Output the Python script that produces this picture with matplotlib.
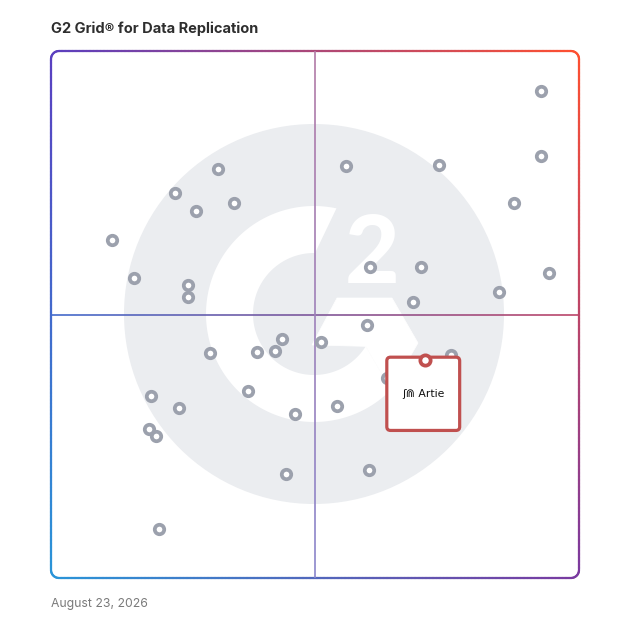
import numpy as np
import matplotlib
matplotlib.use("Agg")
import matplotlib.pyplot as plt
from matplotlib.collections import LineCollection
from matplotlib.patches import Circle, Polygon, FancyBboxPatch
from matplotlib.colors import to_rgb

title = "G2 Grid® for Data Replication"
date_label = "August 23, 2026"

# x = satisfaction, y = market presence (0-100 grid scale)
satisfaction = [92.8, 92.8, 73.5, 55.8, 31.7, 23.5, 27.4, 34.7, 87.7, 11.6,
                60.4, 70.1, 94.3, 15.8, 26.0, 26.0, 84.9, 68.6, 59.8, 43.8,
                51.1, 30.1, 39.1, 42.4, 75.7, 63.6, 37.4, 18.9, 24.2, 46.3,
                54.2, 18.6, 19.8, 44.5, 60.2, 20.5]
market_presence = [92.4, 80.1, 78.4, 78.2, 77.6, 73.0, 69.6, 71.1, 71.1, 64.1,
                   59.0, 59.0, 57.9, 57.0, 55.6, 53.3, 54.2, 52.4, 48.1, 45.4,
                   44.7, 42.6, 42.8, 43.1, 42.4, 37.9, 35.5, 34.5, 32.3, 31.1,
                   32.7, 28.2, 26.9, 19.8, 20.5, 9.3]
highlight_name = "Artie"
highlight_x = 70.8
highlight_y = 41.4

# corner colours of the gradient frame
c_tl, c_tr = to_rgb("#5a3fc0"), to_rgb("#ff5030")
c_bl, c_br = to_rgb("#2a95d8"), to_rgb("#7a3aa0")


def grad(u, v):
    # u: 0 left -> 1 right, v: 0 top -> 1 bottom
    u = np.asarray(u)[:, None]
    v = np.asarray(v)[:, None]
    top = (1 - u) * np.array(c_tl) + u * np.array(c_tr)
    bot = (1 - u) * np.array(c_bl) + u * np.array(c_br)
    return np.clip((1 - v) * top + v * bot, 0, 1)


def densify(pts, n=1500):
    pts = np.asarray(pts, float)
    d = np.r_[0, np.cumsum(np.hypot(*np.diff(pts, axis=0).T))]
    s = np.linspace(0, d[-1], n)
    return np.c_[np.interp(s, d, pts[:, 0]), np.interp(s, d, pts[:, 1])]


W = H = 628
fig = plt.figure(figsize=(6.28, 6.28), dpi=100)
bg = fig.add_axes([0, 0, 1, 1])
bg.set_xlim(0, W)
bg.set_ylim(H, 0)
bg.axis("off")

gx0, gx1, gy0, gy1 = 51, 579, 51, 578
ax = fig.add_axes([gx0 / W, 1 - gy1 / H, (gx1 - gx0) / W, (gy1 - gy0) / H])
ax.set_xlim(0, 100)
ax.set_ylim(0, 100)
ax.axis("off")

# --- G2 watermark ---
cx, cy, R = 314, 314, 190
r_in, r_out = 61, 108
bg.add_patch(Circle((cx, cy), R, color="#ebedf0", lw=0, zorder=0))


def polar(r, a):
    a = np.radians(a)
    return np.c_[cx + r * np.cos(a), cy - r * np.sin(a)]


outer = polar(r_out, np.linspace(78, 315.4, 200))
inner = polar(r_in, np.linspace(328, 89, 200))
ring = np.vstack([outer, polar(r_in, [328]), inner])
bg.add_patch(Polygon(ring, closed=True, fc="white", ec="none", zorder=1))
chevron = np.vstack([polar(r_out, [315.4]), [[418, 343], [392, 298], [337, 298], [312, 345]],
                     polar(r_in, [328])])
bg.add_patch(Polygon(chevron, closed=True, fc="white", ec="white", lw=0.5, zorder=1))
bg.text(371.7, 282.7, "2", fontsize=68, fontweight="black", family="Lato",
        color="white", ha="center", va="baseline", zorder=1)

# --- quadrant lines ---
xs = np.linspace(0, 100, 300)
seg_h = np.c_[xs, np.full_like(xs, 50)]
segs = np.stack([seg_h[:-1], seg_h[1:]], axis=1)
ax.add_collection(LineCollection(segs, colors=grad(xs[:-1] / 100, np.full(299, 0.5)),
                                 lw=1.2, zorder=2))
ys = np.linspace(100, 0, 300)
vtop, vbot = np.array(to_rgb("#b27aa6")), np.array(to_rgb("#8a86cc"))
t = (1 - ys[:-1] / 100)[:, None]
seg_v = np.c_[np.full_like(ys, 50), ys]
segs = np.stack([seg_v[:-1], seg_v[1:]], axis=1)
ax.add_collection(LineCollection(segs, colors=(1 - t) * vtop + t * vbot, lw=1.2, zorder=2))

# --- gradient frame ---
rr = 8
frame = []
for ccx, ccy, a0, a1 in [(gx1 - rr, gy0 + rr, -90, 0), (gx1 - rr, gy1 - rr, 0, 90),
                         (gx0 + rr, gy1 - rr, 90, 180), (gx0 + rr, gy0 + rr, 180, 270)]:
    a = np.radians(np.linspace(a0, a1, 20))
    frame.extend(zip(ccx + rr * np.cos(a), ccy + rr * np.sin(a)))
frame.append(frame[0])
fp = densify(frame)
segs = np.stack([fp[:-1], fp[1:]], axis=1)
mid = (fp[:-1] + fp[1:]) / 2
cols = grad((mid[:, 0] - gx0) / (gx1 - gx0), (mid[:, 1] - gy0) / (gy1 - gy0))
bg.add_collection(LineCollection(segs, colors=cols, lw=1.6, capstyle="round", zorder=3))

# --- products ---
ax.plot(satisfaction, market_presence, "o", ms=6.8, mew=2.7, mfc="white",
        mec="#9ca1ad", ls="none", zorder=3, clip_on=False)

box_w, box_h = 13.8, 13.9
bx = highlight_x - 7.2
btop = highlight_y + 0.5
ax.add_patch(FancyBboxPatch((bx, btop - box_h), box_w, box_h,
                            boxstyle="round,pad=0,rounding_size=0.7",
                            fc="white", ec="#c0504f", lw=2.3, zorder=4))
ax.text(bx + box_w / 2, btop - box_h / 2, "ʃ⋒ " + highlight_name, fontsize=7.8,
        family="DejaVu Sans", color="#111111", ha="center", va="center", zorder=5)
ax.plot(highlight_x, highlight_y, "o", ms=7.4, mew=2.7, mfc="white",
        mec="#c0504f", zorder=6, clip_on=False)

# --- texts ---
bg.text(gx0, 29, title, fontsize=10.5, fontweight="bold", family="Inter",
        color="#2e2e2e", ha="left", va="center")
bg.text(gx0, 604, date_label, fontsize=8.8, family="Inter",
        color="#7a7a7a", ha="left", va="center")

fig.savefig("out.png", dpi=100)
